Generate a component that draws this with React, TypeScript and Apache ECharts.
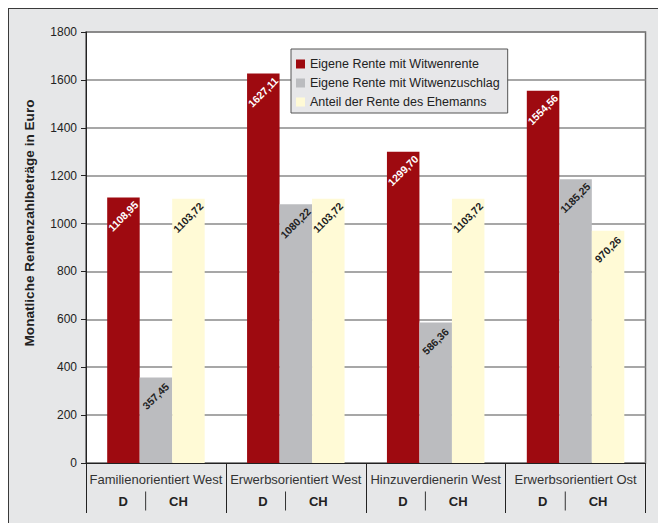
import React, { useEffect, useRef } from "react";
import * as echarts from "echarts";

const categories = [
  "Familienorientiert West",
  "Erwerbsorientiert West",
  "Hinzuverdienerin West",
  "Erwerbsorientiert Ost",
];
const subLabels = ["D", "CH"];
const seriesNames = [
  "Eigene Rente mit Witwenrente",
  "Eigene Rente mit Witwenzuschlag",
  "Anteil der Rente des Ehemanns",
];
const eigeneRenteWitwenrente = [1108.95, 1627.11, 1299.7, 1554.56];
const eigeneRenteWitwenzuschlag = [357.45, 1080.22, 586.36, 1185.25];
const anteilRenteEhemann = [1103.72, 1103.72, 1103.72, 970.26];
const yAxisTitle = "Monatliche Rentenzahlbeträge in Euro";

const FONT = "'Liberation Sans', Arial, sans-serif";
const colors = ["#9e0a10", "#bbbcbf", "#fffad6"];
const labelColors = ["#ffffff", "#222222", "#222222"];

const fmt = (v: number) => v.toFixed(2).replace(".", ",");

export default function App() {
  const ref = useRef<HTMLDivElement>(null);
  useEffect(() => {
    if (!ref.current) return;
    const chart = echarts.init(ref.current, null, { renderer: "svg" });
    const seriesData = [eigeneRenteWitwenrente, eigeneRenteWitwenzuschlag, anteilRenteEhemann];
    chart.setOption({
      animation: false,
      textStyle: { fontFamily: FONT },
      grid: {
        left: 86,
        top: 32,
        right: 12.5,
        bottom: 60,
        show: true,
        backgroundColor: "#ffffff",
        borderColor: "#6a6a6a",
        borderWidth: 1.5,
      },
      legend: {
        orient: "vertical",
        left: 291,
        top: 49,
        backgroundColor: "#e7e7e9",
        borderColor: "#555555",
        borderWidth: 1,
        padding: [8, 8, 4, 5],
        itemWidth: 9,
        itemHeight: 9,
        itemGap: 5,
        icon: "rect",
        data: seriesNames,
        textStyle: { fontFamily: FONT, fontSize: 12.5, color: "#222", lineHeight: 14 },
      },
      xAxis: {
        type: "category",
        data: categories,
        axisLine: { lineStyle: { color: "#222", width: 1 } },
        axisTick: { show: true, length: 50, interval: 0, lineStyle: { color: "#222", width: 1 } },
        axisLabel: {
          interval: 0,
          margin: 8,
          formatter: (v: string) => `{n|${v}}\n{d|${subLabels[0]}}{s| }{c|${subLabels[1]}}`,
          rich: {
            n: { fontFamily: FONT, fontSize: 13, color: "#333", lineHeight: 16, align: "center" },
            d: { fontFamily: FONT, fontSize: 13, fontWeight: "bold", color: "#222", width: 44, lineHeight: 28, align: "center" },
            s: { width: 1, height: 19, backgroundColor: "#333", lineHeight: 28, fontSize: 1, align: "center" },
            c: { fontFamily: FONT, fontSize: 13, fontWeight: "bold", color: "#222", width: 64.6, lineHeight: 28, align: "center" },
          },
        },
      },
      yAxis: {
        type: "value",
        min: 0,
        max: 1800,
        interval: 200,
        axisLine: { show: true, lineStyle: { color: "#222", width: 1 } },
        axisTick: { show: true, length: 5, lineStyle: { color: "#222" } },
        axisLabel: {
          margin: 9,
          fontFamily: FONT,
          fontSize: 12,
          color: "#222",
          formatter: (v: number) => String(v),
        },
        splitLine: { lineStyle: { color: "#8a8a8a", width: 1.5 } },
      },
      series: seriesNames.map((name, i) => ({
        name,
        type: "bar",
        data: seriesData[i],
        barWidth: 32.5,
        barGap: "0%",
        itemStyle: { color: colors[i] },
        label: {
          show: true,
          position: ["50%", 19],
          align: "center",
          verticalAlign: "middle",
          rotate: 45,
          formatter: (p: any) => fmt(p.value),
          fontFamily: FONT,
          fontSize: 10.5,
          fontWeight: "bold",
          color: labelColors[i],
        },
      })),
      graphic: [
        {
          type: "text",
          x: 29,
          y: 223,
          rotation: Math.PI / 2,
          style: {
            text: yAxisTitle,
            fontFamily: FONT,
            fontSize: 13.6,
            fontWeight: "bold",
            fill: "#222",
            align: "center",
            verticalAlign: "middle",
          },
        },
      ],
    });
    return () => chart.dispose();
  }, []);

  return (
    <div style={{ position: "fixed", left: 0, top: 0, width: 658, height: 523, overflow: "hidden" }}>
      <div
        style={{
          position: "absolute",
          left: 8,
          top: 8,
          width: 660,
          height: 525,
          borderTop: "1px solid #3a3a3a",
          borderLeft: "1px solid #3a3a3a",
          background: "#e6e7e8",
        }}
      />
      <div ref={ref} style={{ position: "absolute", left: 0, top: 0, width: 658, height: 523 }} />
    </div>
  );
}
